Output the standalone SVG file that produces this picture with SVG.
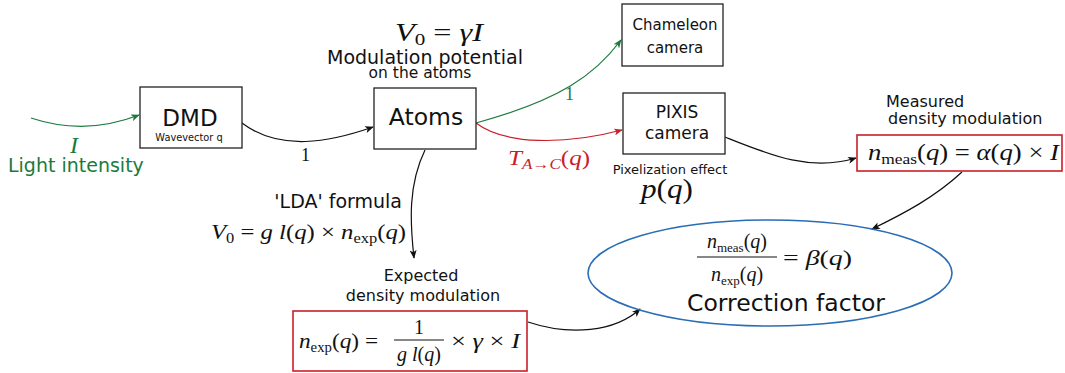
<svg xmlns="http://www.w3.org/2000/svg" width="1065" height="373" viewBox="0 0 1065 373">
<style>
.box{fill:#fff;stroke:#222;stroke-width:1.3}
.rbox{fill:#fff;stroke:#c8202a;stroke-width:1.6}
.s{font-family:"DejaVu Sans",sans-serif;fill:#111}
.m{font-family:"Liberation Serif","DejaVu Serif",serif;fill:#111}
.i{font-style:italic}
.g{fill:#1b7a3e}
.r{fill:#c8202a}
.c{fill:none;stroke-width:1.2}
</style>
<defs>
<marker id="ak" viewBox="0 0 10 8" refX="9" refY="4" markerWidth="9" markerHeight="7" markerUnits="userSpaceOnUse" orient="auto"><path d="M0,0 L10,4 L0,8 L2.5,4 Z" fill="#111"/></marker>
<marker id="ag" viewBox="0 0 10 8" refX="9" refY="4" markerWidth="9" markerHeight="7" markerUnits="userSpaceOnUse" orient="auto"><path d="M0,0 L10,4 L0,8 L2.5,4 Z" fill="#1b7a3e"/></marker>
<marker id="ar" viewBox="0 0 10 8" refX="9" refY="4" markerWidth="9" markerHeight="7" markerUnits="userSpaceOnUse" orient="auto"><path d="M0,0 L10,4 L0,8 L2.5,4 Z" fill="#c8202a"/></marker>
</defs>
<rect width="1065" height="373" fill="#fff"/>

<g id="connectors">
<path class="c" stroke="#1b7a3e" d="M31,118 Q85,136 139,115" marker-end="url(#ag)"/>
<path class="c" stroke="#111" d="M242,123 C280,152 330,142 373,127" marker-end="url(#ak)"/>
<path class="c" stroke="#1b7a3e" d="M476,123 C560,100 595,75 621,40" marker-end="url(#ag)"/>
<path class="c" stroke="#c8202a" d="M476,123 C505,145 565,145 622,130" marker-end="url(#ar)"/>
<path class="c" stroke="#111" d="M725,137 C770,155 810,172 856,158" marker-end="url(#ak)"/>
<path class="c" stroke="#111" d="M962,172 C935,197 905,213 872,229" marker-end="url(#ak)"/>
<path class="c" stroke="#111" d="M425,150 C408,185 410,222 414,258" marker-end="url(#ak)"/>
<path class="c" stroke="#111" d="M528,322 C570,336 615,332 640,309" marker-end="url(#ak)"/>
<text class="m" x="301" y="161" font-size="18">1</text>
<text class="m g" x="565" y="100" font-size="18">1</text>
<text class="m r" x="508" y="165" font-size="22" textLength="82" lengthAdjust="spacingAndGlyphs"><tspan class="i">T</tspan><tspan class="i" font-size="15" dy="4">A→C</tspan><tspan dy="-4">(</tspan><tspan class="i">q</tspan>)</text>
</g>

<g id="light">
<text class="m i g" x="70" y="153" font-size="24">I</text>
<text class="s g" x="8" y="172" font-size="19">Light intensity</text>
</g>

<g id="dmd">
<rect class="box" x="140" y="87" width="102" height="61"/>
<text class="s" x="190" y="126" font-size="23" text-anchor="middle">DMD</text>
<text class="s" x="189" y="141" font-size="9.8" text-anchor="middle">Wavevector q</text>
</g>

<g id="atoms">
<text class="m" x="395" y="41" font-size="26" textLength="88" lengthAdjust="spacingAndGlyphs"><tspan class="i">V</tspan><tspan font-size="17" dy="4">0</tspan><tspan dy="-4"> = </tspan><tspan class="i">γI</tspan></text>
<text class="s" x="425" y="64" font-size="19" text-anchor="middle">Modulation potential</text>
<text class="s" x="420" y="78" font-size="15.5" text-anchor="middle">on the atoms</text>
<rect class="box" x="374" y="88" width="102" height="61"/>
<text class="s" x="426" y="125" font-size="23.5" text-anchor="middle">Atoms</text>
</g>

<g id="chameleon">
<rect class="box" x="622" y="4" width="101" height="62"/>
<text class="s" x="675" y="30" font-size="15" text-anchor="middle">Chameleon</text>
<text class="s" x="675" y="53" font-size="15" text-anchor="middle">camera</text>
</g>

<g id="pixis">
<rect class="box" x="623" y="93" width="102" height="61"/>
<text class="s" x="677" y="118" font-size="17" text-anchor="middle">PIXIS</text>
<text class="s" x="677" y="139" font-size="17" text-anchor="middle">camera</text>
<text class="s" x="670" y="174" font-size="13" text-anchor="middle">Pixelization effect</text>
<text class="m" x="641" y="198" font-size="27" textLength="52" lengthAdjust="spacingAndGlyphs"><tspan class="i">p</tspan>(<tspan class="i">q</tspan>)</text>
</g>

<g id="lda">
<text class="s" x="402" y="208" font-size="19" text-anchor="end">'LDA' formula</text>
<text class="m" x="211" y="239" font-size="21" textLength="195" lengthAdjust="spacingAndGlyphs"><tspan class="i">V</tspan><tspan font-size="14" dy="4">0</tspan><tspan dy="-4"> = </tspan><tspan class="i">g l</tspan>(<tspan class="i">q</tspan>) × <tspan class="i">n</tspan><tspan font-size="14" dy="4">exp</tspan><tspan dy="-4">(</tspan><tspan class="i">q</tspan>)</text>
</g>

<g id="measured">
<text class="s" x="886" y="107" font-size="16">Measured</text>
<text class="s" x="888" y="124" font-size="16">density modulation</text>
<rect class="rbox" x="857" y="135" width="205" height="36"/>
<text class="m" x="868" y="160" font-size="23" textLength="191" lengthAdjust="spacingAndGlyphs"><tspan class="i">n</tspan><tspan font-size="15" dy="4">meas</tspan><tspan dy="-4">(</tspan><tspan class="i">q</tspan>) = <tspan class="i">α</tspan>(<tspan class="i">q</tspan>) × <tspan class="i">I</tspan></text>
</g>

<g id="expected">
<text class="s" x="421" y="281" font-size="16" text-anchor="middle">Expected</text>
<text class="s" x="423" y="301" font-size="16" text-anchor="middle">density modulation</text>
<rect class="rbox" x="293" y="311" width="234" height="60"/>
<text class="m" x="299" y="348" font-size="22" textLength="79" lengthAdjust="spacingAndGlyphs"><tspan class="i">n</tspan><tspan font-size="14" dy="4">exp</tspan><tspan dy="-4">(</tspan><tspan class="i">q</tspan>) =</text>
<text class="m" x="419" y="334" font-size="20" text-anchor="middle">1</text>
<line x1="394" y1="340" x2="444" y2="340" stroke="#111" stroke-width="1"/>
<text class="m" x="419" y="361" font-size="20" text-anchor="middle"><tspan class="i">g l</tspan>(<tspan class="i">q</tspan>)</text>
<text class="m" x="451" y="348" font-size="22" textLength="69" lengthAdjust="spacingAndGlyphs">× <tspan class="i">γ</tspan> × <tspan class="i">I</tspan></text>
</g>

<g id="correction">
<ellipse cx="770" cy="273" rx="182" ry="53" fill="none" stroke="#2a6db5" stroke-width="1.6"/>
<text class="m" x="737" y="248" font-size="20" text-anchor="middle"><tspan class="i">n</tspan><tspan font-size="13" dy="4">meas</tspan><tspan dy="-4">(</tspan><tspan class="i">q</tspan>)</text>
<line x1="697" y1="257" x2="777" y2="257" stroke="#111" stroke-width="1"/>
<text class="m" x="737" y="281" font-size="20" text-anchor="middle"><tspan class="i">n</tspan><tspan font-size="13" dy="4">exp</tspan><tspan dy="-4">(</tspan><tspan class="i">q</tspan>)</text>
<text class="m" x="783" y="265" font-size="21" textLength="69" lengthAdjust="spacingAndGlyphs">= <tspan class="i">β</tspan>(<tspan class="i">q</tspan>)</text>
<text class="s" x="786" y="311" font-size="23.5" text-anchor="middle">Correction factor</text>
</g>
</svg>
